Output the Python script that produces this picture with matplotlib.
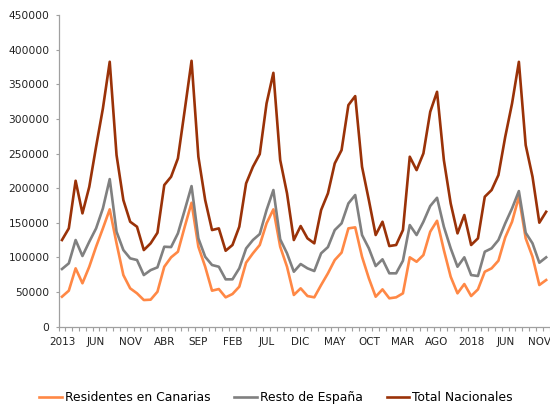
import numpy as np
import matplotlib
matplotlib.use("Agg")
import matplotlib.pyplot as plt

# meses ene 2013 - dic 2018
etiquetas = ["2013", "JUN", "NOV", "ABR", "SEP", "FEB", "JUL", "DIC", "MAY", "OCT",
             "MAR", "AGO", "2018", "JUN", "NOV"]

residentes = [43300, 52000, 84300, 62700, 86600, 115500, 142000, 169500, 120400, 74600,
              55400, 48200, 38500, 39000, 50500, 86600, 100200, 108300, 144400, 179000,
              115500, 86600, 52000, 54400, 42400, 47200, 57800, 92500, 106000, 118000,
              149300, 169500, 115500, 86600, 45800, 55400, 44300, 42400, 60200, 77100,
              96300, 107000, 142000, 143500, 101000, 69900, 43300, 53900, 41000, 42400,
              48200, 100200, 93800, 103500, 137200, 153000, 110700, 72200, 48200, 61600,
              44300, 53900, 79400, 84300, 95300, 129000, 151600, 187700, 127600, 101000,
              60200, 67400]

resto = [83300, 91500, 125200, 102100, 122700, 142000, 170900, 213200, 137200, 110700,
         98700, 96300, 74600, 81700, 85700, 115500, 115000, 134800, 168500, 203100,
         127600, 101000, 89100, 86600, 68400, 68400, 84300, 113000, 125200, 133800,
         168500, 197400, 126200, 106000, 79400, 90500, 84300, 80400, 106000, 115000,
         139600, 149300, 178100, 190200, 132400, 113200, 87600, 97300, 77100, 77100,
         95300, 146800, 132400, 151600, 174300, 186200, 144400, 113200, 86600, 100200,
         74600, 73200, 108300, 113200, 125200, 149300, 170900, 195900, 135700, 120400,
         92400, 100200]

total = [125200, 142000, 210800, 163700, 202000, 260000, 315300, 382700, 247900, 182900,
         151600, 144400, 110700, 120400, 135700, 204600, 216600, 243100, 312900, 384100,
         245500, 182900, 139600, 142000, 109700, 118000, 144400, 207000, 231000, 249300,
         322500, 366700, 240700, 192600, 125200, 145400, 127600, 120400, 168500, 192600,
         235900, 255100, 320100, 333100, 231000, 182900, 132400, 151600, 116500, 118000,
         139600, 245500, 226200, 250300, 310400, 339300, 240700, 178100, 134800, 161300,
         118000, 127600, 187700, 197400, 219000, 274300, 322500, 382600, 262300, 216600,
         150200, 166000]

x = np.arange(len(total))

fig = plt.figure(figsize=(5.5, 4.08), dpi=100)
ax = fig.add_axes([0.1065, 0.1993, 0.8927, 0.7635])

ax.plot(x, residentes, color="#FF8845", lw=1.9, label="Residentes en Canarias")
ax.plot(x, resto, color="#808080", lw=1.9, label="Resto de España")
ax.plot(x, total, color="#9A3208", lw=1.9, label="Total Nacionales")

ax.set_xlim(-0.5, 71.5)
ax.set_ylim(0, 450000)
ax.set_yticks(np.arange(0, 450001, 50000))
ax.tick_params(axis="y", labelsize=7.7, length=2.5, width=0.8, color="#A0A0A0",
               pad=4, labelcolor="#222222")

ax.set_xticks(x[::5])
ax.set_xticklabels(etiquetas)
ax.set_xticks(np.arange(-0.5, 72, 1), minor=True)
ax.tick_params(axis="x", which="major", length=0, labelsize=7.5, pad=7.5,
               labelcolor="#222222")
ax.tick_params(axis="x", which="minor", length=3, width=0.8, color="#A0A0A0")

for s in ["top", "right"]:
    ax.spines[s].set_visible(False)
for s in ["left", "bottom"]:
    ax.spines[s].set_color("#A0A0A0")
    ax.spines[s].set_linewidth(0.9)

fig.legend(loc="center", bbox_to_anchor=(0.502, 0.025), ncol=3, frameon=False,
           fontsize=8.9, handlelength=1.85, handletextpad=0.25, columnspacing=1.9)

plt.savefig("out.png", dpi=100)
